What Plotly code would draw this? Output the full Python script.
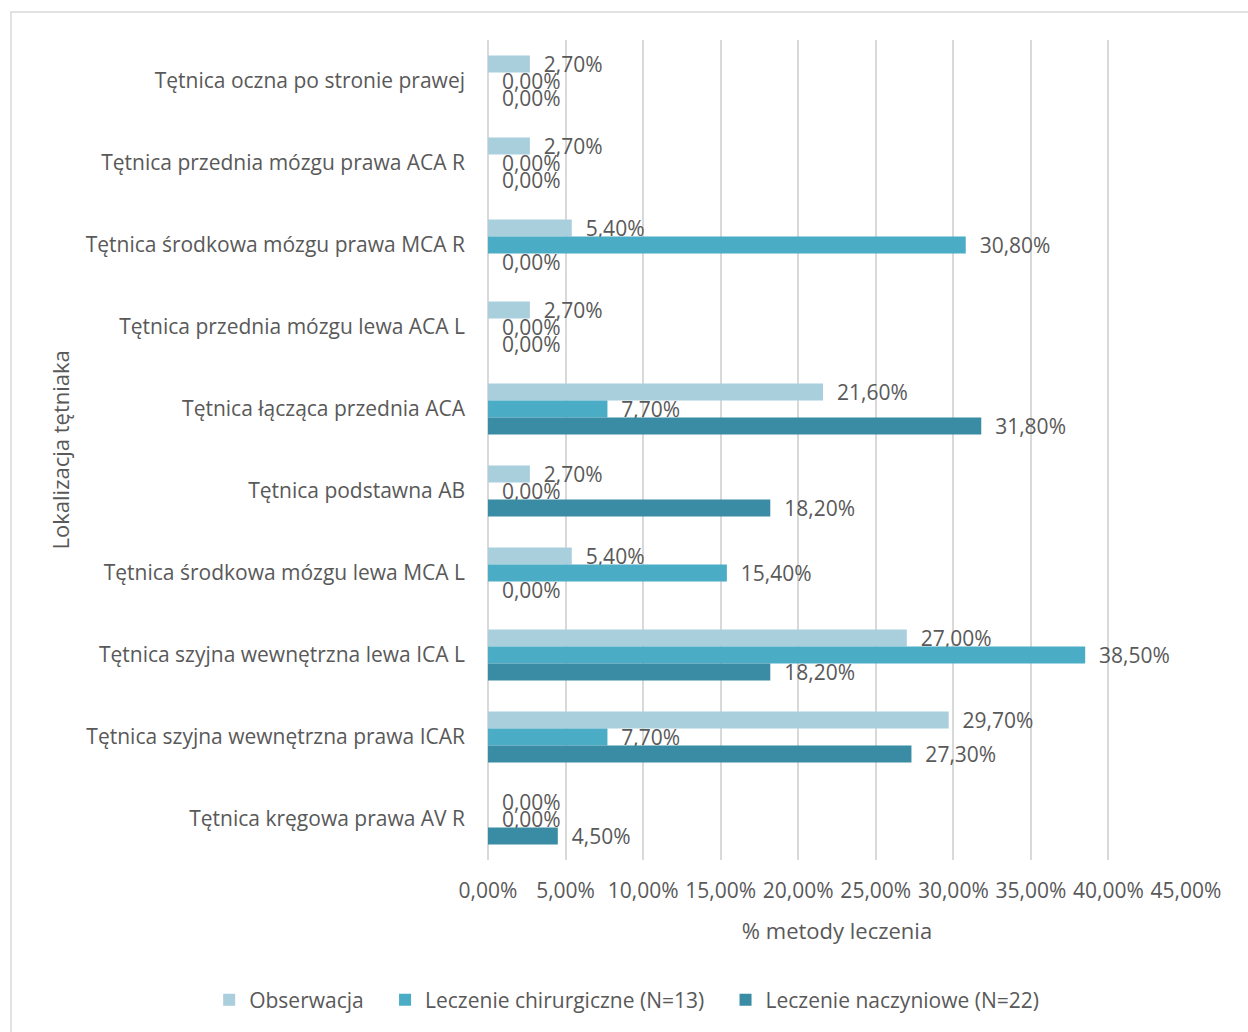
import plotly.graph_objects as go

# Aneurysm locations (top to bottom) and share of each treatment method (%)
categories = [
    "Tętnica oczna po stronie prawej",
    "Tętnica przednia mózgu prawa ACA R",
    "Tętnica środkowa mózgu prawa MCA R",
    "Tętnica przednia mózgu lewa ACA L",
    "Tętnica łącząca przednia ACA",
    "Tętnica podstawna AB",
    "Tętnica środkowa mózgu lewa MCA L",
    "Tętnica szyjna wewnętrzna lewa ICA L",
    "Tętnica szyjna wewnętrzna prawa ICAR",
    "Tętnica kręgowa prawa AV R",
]
obserwacja = [2.70, 2.70, 5.40, 2.70, 21.60, 2.70, 5.40, 27.00, 29.70, 0.00]
chirurgiczne = [0.00, 0.00, 30.80, 0.00, 7.70, 0.00, 15.40, 38.50, 7.70, 0.00]
naczyniowe = [0.00, 0.00, 0.00, 0.00, 31.80, 18.20, 0.00, 18.20, 27.30, 4.50]

# Legend entries are padded with non-breaking spaces to widen the gaps between them
PAD = "\u00a0\u00a0\u00a0"
series = [
    ("Obserwacja" + PAD, obserwacja, "#A9CFDD"),
    ("Leczenie chirurgiczne (N=13)" + PAD, chirurgiczne, "#4BACC6"),
    ("Leczenie naczyniowe (N=22)", naczyniowe, "#3A8BA4"),
]

FONT = "Open Sans"
TXT = "#595959"
FS = 21


def fmt(v):
    return "\u00a0\u00a0" + f"{v:.2f}".replace(".", ",") + "%"


fig = go.Figure()
for name, vals, color in series:
    fig.add_trace(go.Bar(
        name=name,
        y=categories,
        x=vals,
        orientation="h",
        marker=dict(color=color, line=dict(width=0)),
        text=[fmt(v) for v in vals],
        textposition="outside",
        constraintext="none",
        cliponaxis=False,
        textfont=dict(family=FONT, size=FS, color=TXT),
        hoverinfo="skip",
    ))

fig.update_layout(
    width=1248,
    height=1032,
    margin=dict(l=488, r=62, t=40, b=172, autoexpand=False),
    paper_bgcolor="white",
    plot_bgcolor="white",
    barmode="group",
    bargap=0.38,
    bargroupgap=0,
    separators=", ",
    font=dict(family=FONT, size=FS, color=TXT),
    showlegend=True,
    legend=dict(
        orientation="h",
        x=-0.3995,
        xanchor="left",
        y=-0.171,
        yanchor="middle",
        font=dict(family=FONT, size=FS, color=TXT),
        traceorder="normal",
        itemwidth=30,
    ),
    xaxis=dict(
        range=[0, 45],
        dtick=5,
        tick0=0,
        tickformat=".2f",
        ticksuffix="%",
        showgrid=True,
        gridcolor="#D9D9D9",
        gridwidth=2,
        zeroline=True,
        zerolinecolor="#D9D9D9",
        zerolinewidth=2,
        showline=False,
        ticks="",
        ticklabelstandoff=16,
        tickfont=dict(family=FONT, size=FS, color=TXT),
        title=dict(text="% metody leczenia", font=dict(family=FONT, size=22, color=TXT), standoff=20),
    ),
    yaxis=dict(
        autorange="reversed",
        showgrid=False,
        showline=False,
        ticks="",
        ticklabelstandoff=22,
        tickfont=dict(family=FONT, size=FS, color=TXT),
    ),
    annotations=[
        dict(text="Lokalizacja tętniaka", xref="paper", yref="paper",
             x=-0.6125, y=0.5, textangle=-90, showarrow=False,
             xanchor="center", yanchor="middle",
             font=dict(family=FONT, size=22, color=TXT)),
    ],
    shapes=[
        dict(type="rect", xref="paper", yref="paper",
             x0=-0.6834, x1=1.3, y0=-0.4, y1=1.0341,
             line=dict(color="#D9D9D9", width=1.5), fillcolor="rgba(0,0,0,0)", layer="below"),
    ],
)

fig.write_html("out.html")
